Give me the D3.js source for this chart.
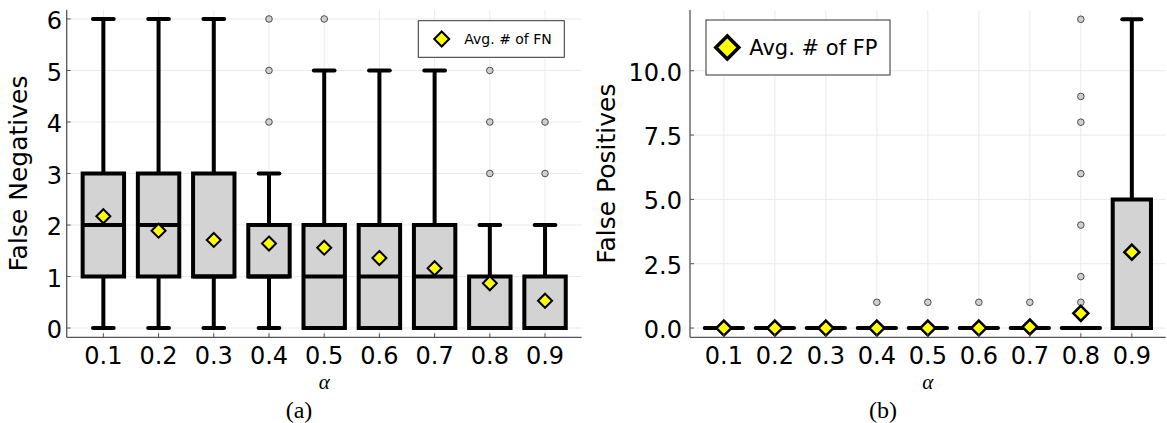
<!DOCTYPE html>
<html><head><meta charset="utf-8">
<script src="https://cdn.jsdelivr.net/npm/d3@7/dist/d3.min.js"></script>
<style>body{margin:0;background:#fff}svg{display:block}</style>
</head><body>
<svg id="c" width="1167" height="423"></svg>
<script>
// ---------- data ----------
const alphaLabels = ["0.1","0.2","0.3","0.4","0.5","0.6","0.7","0.8","0.9"];

// False negatives (panel a)
const fnLow    = [0, 0, 0, 0, 0, 0, 0, 0, 0];
const fnQ1     = [1, 1, 1, 1, 0, 0, 0, 0, 0];
const fnMedian = [2, 2, 1, 1, 1, 1, 1, 0, 0];
const fnQ3     = [3, 3, 3, 2, 2, 2, 2, 1, 1];
const fnHigh   = [6, 6, 6, 3, 5, 5, 5, 2, 2];
const fnOutliers = [[], [], [], [4, 5, 6], [6], [], [], [3, 4, 5], [3, 4]];
const fnMean   = [2.17, 1.89, 1.71, 1.64, 1.56, 1.36, 1.16, 0.87, 0.53];
const fnTicks  = [0, 1, 2, 3, 4, 5, 6];

// False positives (panel b)
const fpLow    = [0, 0, 0, 0, 0, 0, 0, 0, 0];
const fpQ1     = [0, 0, 0, 0, 0, 0, 0, 0, 0];
const fpMedian = [0, 0, 0, 0, 0, 0, 0, 0, 0];
const fpQ3     = [0, 0, 0, 0, 0, 0, 0, 0, 5];
const fpHigh   = [0, 0, 0, 0, 0, 0, 0, 0, 12];
const fpOutliers = [[], [], [], [1], [1], [1], [1], [1, 2, 4, 6, 8, 9, 12], []];
const fpMean   = [0, 0, 0, 0, 0, 0, 0.04, 0.57, 2.95];
const fpTicks  = [0, 2.5, 5, 7.5, 10];

// ---------- drawing ----------
const svg = d3.select("#c");
const FONT = "'DejaVu Sans', sans-serif";
const SERIF = "'Liberation Serif', 'DejaVu Serif', serif";

function panel(o) {
  const g = svg.append("g");
  const n = alphaLabels.length;
  const idx = d3.range(1, n + 1);
  const x = d3.scaleLinear().domain([0.336, n + 0.664]).range([o.x0, o.x1]);
  const y = d3.scaleLinear().domain(o.ydom).range([o.y1, o.y0]);
  const step = x(2) - x(1);
  const bw = 0.75 * step;

  // grid
  g.append("g").selectAll("line").data(idx).join("line")
    .attr("x1", d => x(d)).attr("x2", d => x(d))
    .attr("y1", o.y0).attr("y2", o.y1)
    .attr("stroke", "#ebebeb").attr("stroke-width", 1);
  g.append("g").selectAll("line").data(o.ticks).join("line")
    .attr("x1", o.x0).attr("x2", o.x1)
    .attr("y1", d => y(d)).attr("y2", d => y(d))
    .attr("stroke", "#ebebeb").attr("stroke-width", 1);

  const rows = idx.map((d, i) => ({
    i: d, lo: o.low[i], q1: o.q1[i], med: o.med[i], q3: o.q3[i], hi: o.high[i],
    out: o.out[i], mean: o.mean[i]
  }));

  const bx = g.append("g");
  rows.forEach(r => {
    const cx = x(r.i);
    if (r.hi > r.q3) {
      bx.append("line").attr("x1", cx).attr("x2", cx).attr("y1", y(r.q3)).attr("y2", y(r.hi))
        .attr("stroke", "#000").attr("stroke-width", 4);
      bx.append("line").attr("x1", cx - bw / 4).attr("x2", cx + bw / 4)
        .attr("y1", y(r.hi)).attr("y2", y(r.hi))
        .attr("stroke", "#000").attr("stroke-width", 4).attr("stroke-linecap", "round");
    }
    if (r.lo < r.q1) {
      bx.append("line").attr("x1", cx).attr("x2", cx).attr("y1", y(r.q1)).attr("y2", y(r.lo))
        .attr("stroke", "#000").attr("stroke-width", 4);
      bx.append("line").attr("x1", cx - bw / 4).attr("x2", cx + bw / 4)
        .attr("y1", y(r.lo)).attr("y2", y(r.lo))
        .attr("stroke", "#000").attr("stroke-width", 4).attr("stroke-linecap", "round");
    }
    const xl = cx - bw / 2, xr = cx + bw / 2, yt = y(r.q3), yb = y(r.q1);
    const flat = r.q3 === r.q1;
    bx.append("path")
      .attr("d", `M${xl},${yb}L${xr},${yb}L${xr},${yt}L${xl},${yt}Z`)
      .attr("fill", "#d3d3d3").attr("stroke", "#000").attr("stroke-width", 4)
      .attr("stroke-linejoin", flat ? "round" : "miter");
    bx.append("line").attr("x1", xl).attr("x2", xr).attr("y1", y(r.med)).attr("y2", y(r.med))
      .attr("stroke", "#000").attr("stroke-width", 4);
  });

  // outliers
  const outs = rows.flatMap(r => r.out.map(v => ({ i: r.i, v })));
  g.append("g").selectAll("circle").data(outs).join("circle")
    .attr("cx", d => x(d.i)).attr("cy", d => y(d.v)).attr("r", 3.3)
    .attr("fill", "#cfcfcf").attr("stroke", "#4d4d4d").attr("stroke-width", 1);

  // means
  const dia = s => `M0,${-s}L${s},0L0,${s}L${-s},0Z`;
  g.append("g").selectAll("path").data(rows).join("path")
    .attr("transform", d => `translate(${x(d.i)},${y(d.mean)})`)
    .attr("d", dia(o.ds))
    .attr("fill", "#ffff00").attr("stroke", "#000").attr("stroke-width", o.dsw)
    .attr("stroke-linejoin", "miter");

  // axes spines
  g.append("line").attr("x1", o.x0).attr("x2", o.x0).attr("y1", o.y0).attr("y2", o.y1)
    .attr("stroke", "#555").attr("stroke-width", 1.3);
  g.append("line").attr("x1", o.x0).attr("x2", o.x1).attr("y1", o.y1).attr("y2", o.y1)
    .attr("stroke", "#555").attr("stroke-width", 1.3);
  g.append("g").selectAll("line").data(idx).join("line")
    .attr("x1", d => x(d)).attr("x2", d => x(d)).attr("y1", o.y1).attr("y2", o.y1 - 4)
    .attr("stroke", "#555").attr("stroke-width", 1);
  g.append("g").selectAll("line").data(o.ticks).join("line")
    .attr("x1", o.x0).attr("x2", o.x0 + 4).attr("y1", d => y(d)).attr("y2", d => y(d))
    .attr("stroke", "#555").attr("stroke-width", 1);

  // tick labels
  g.append("g").selectAll("text").data(idx).join("text")
    .attr("x", d => x(d)).attr("y", 364)
    .attr("text-anchor", "middle").attr("font-family", FONT).attr("font-size", 24)
    .text((d, i) => alphaLabels[i]);
  g.append("g").selectAll("text").data(o.ticks).join("text")
    .attr("x", o.labX).attr("y", d => y(d)).attr("dy", "0.42em")
    .attr("text-anchor", "end").attr("font-family", FONT).attr("font-size", 24)
    .text(d => o.fmt(d));

  // axis titles
  g.append("text").attr("transform", `translate(${o.ylabX},${(o.y0 + o.y1) / 2}) rotate(-90)`)
    .attr("text-anchor", "middle").attr("font-family", FONT).attr("font-size", 25)
    .text(o.ylabel);
  g.append("text").attr("x", (o.x0 + o.x1) / 2).attr("y", 389)
    .attr("text-anchor", "middle").attr("font-family", SERIF).attr("font-style", "italic")
    .attr("font-size", 21).text("α");
  g.append("text").attr("x", o.capX).attr("y", 418)
    .attr("text-anchor", "middle").attr("font-family", SERIF)
    .attr("font-size", 24).text(o.caption);

  // legend
  const L = o.leg;
  g.append("rect").attr("x", L.x).attr("y", L.y).attr("width", L.w).attr("height", L.h)
    .attr("fill", "#fff").attr("stroke", "#333").attr("stroke-width", 1);
  g.append("path").attr("transform", `translate(${L.mx},${L.y + L.h / 2})`)
    .attr("d", dia(L.ms)).attr("fill", "#ffff00").attr("stroke", "#000")
    .attr("stroke-width", L.msw).attr("stroke-linejoin", "miter");
  g.append("text").attr("x", L.tx).attr("y", L.y + L.h / 2).attr("dy", "0.36em")
    .attr("font-family", FONT).attr("font-size", L.fs).text(L.text);
}

panel({
  x0: 66.7, x1: 581.7, y0: 9.7, y1: 337.3, ydom: [-0.18, 6.18],
  low: fnLow, q1: fnQ1, med: fnMedian, q3: fnQ3, high: fnHigh, out: fnOutliers, mean: fnMean,
  ticks: fnTicks, fmt: d3.format("d"), labX: 62, ylabX: 27, ylabel: "False Negatives",
  capX: 299, caption: "(a)", ds: 7, dsw: 2,
  leg: { x: 418.3, y: 20.7, w: 146, h: 36.6, mx: 441.7, ms: 7.5, msw: 2, tx: 464.3, fs: 14, text: "Avg. # of FN" }
});
panel({
  x0: 690, x1: 1165.7, y0: 10, y1: 337.3, ydom: [-0.36, 12.36],
  low: fpLow, q1: fpQ1, med: fpMedian, q3: fpQ3, high: fpHigh, out: fpOutliers, mean: fpMean,
  ticks: fpTicks, fmt: d3.format(".1f"), labX: 682, ylabX: 615, ylabel: "False Positives",
  capX: 883, caption: "(b)", ds: 7.5, dsw: 2.5,
  leg: { x: 706, y: 20, w: 184, h: 55, mx: 727.3, ms: 11.5, msw: 3.5, tx: 749.3, fs: 21, text: "Avg. # of FP" }
});
</script>
</body></html>
